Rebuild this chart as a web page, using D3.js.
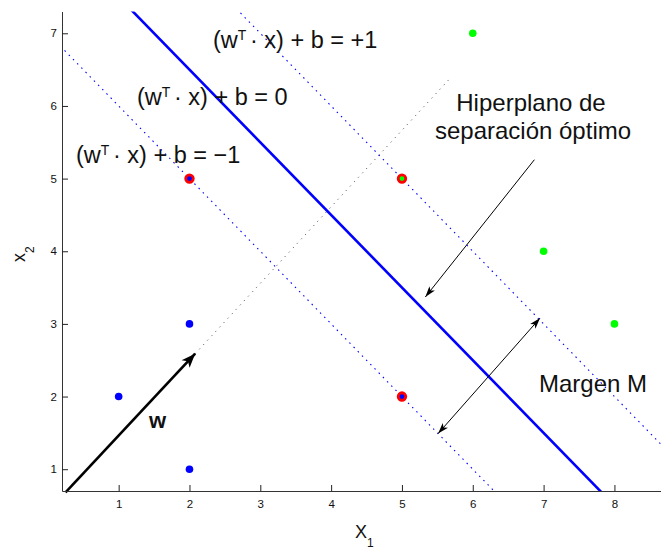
<!DOCTYPE html>
<html>
<head>
<meta charset="utf-8">
<script src="https://cdn.jsdelivr.net/npm/d3@7"></script>
<style>
body{margin:0;background:#fff}
text{font-family:"Liberation Sans",Arial,Helvetica,sans-serif;fill:#111}
</style>
</head>
<body>
<div id="canvas"></div>
<script>
// data
var xTicks = [1,2,3,4,5,6,7,8],
    yTicks = [1,2,3,4,5,6,7];

var blueX = [1,2,2,2,5], blueY = [2,1,3,5,2];      // class -1
var greenX = [6,7,8,5],  greenY = [7,4,3,5];       // class +1
var svX = [2,5,5], svY = [5,2,5];                  // support vectors (red ring)

// lines x1 + x2 = c
var planeC = [7, 8.5, 10],
    planeKind = ['margin','hyper','margin'];

var wX = [0.25, 2.08], wY = [0.68, 2.59];          // vector w
var normX = [2.08, 5.67], normY = [2.59, 6.37];    // dotted normal
var hypArrX = [6.87, 5.33], hypArrY = [5.26, 3.37];
var marArrX = [6.95, 5.51], marArrY = [3.08, 1.49];

var W = 661, H = 549;

var svg = d3.select('#canvas').append('svg')
    .attr('width', W).attr('height', H);

var x = d3.scaleLinear().domain([0.2, 8.7]).range([62, 664]),
    y = d3.scaleLinear().domain([0.7, 7.3]).range([491, 11.5]);

svg.append('clipPath').attr('id','clip')
  .append('rect').attr('x',62).attr('y',11.5).attr('width',602).attr('height',479.5);

var plot = svg.append('g').attr('clip-path','url(#clip)');

// separating lines
planeC.forEach(function(c, i){
    var l = plot.append('line')
        .attr('x1', x(0)).attr('y1', y(c))
        .attr('x2', x(c)).attr('y2', y(0))
        .attr('stroke','#0000ff');
    if (planeKind[i] == 'hyper') l.attr('stroke-width', 2.6);
    else l.attr('stroke-width', 1.1).attr('stroke-dasharray','1.5,4.5');
});

// normal direction, dotted gray
plot.append('line')
    .attr('x1', x(normX[0])).attr('y1', y(normY[0]))
    .attr('x2', x(normX[1])).attr('y2', y(normY[1]))
    .attr('stroke','#444').attr('stroke-width',1).attr('stroke-dasharray','1,5');

// points
plot.selectAll('.blue').data(blueX).enter().append('circle')
    .attr('cx', function(d){ return x(d); })
    .attr('cy', function(d,i){ return y(blueY[i]); })
    .attr('r', 3.8).attr('fill','#0000ff');
plot.selectAll('.green').data(greenX).enter().append('circle')
    .attr('cx', function(d){ return x(d); })
    .attr('cy', function(d,i){ return y(greenY[i]); })
    .attr('r', 3.8).attr('fill','#00ff00');
plot.selectAll('.sv').data(svX).enter().append('circle')
    .attr('cx', function(d){ return x(d); })
    .attr('cy', function(d,i){ return y(svY[i]); })
    .attr('r', 3.8).attr('fill','none').attr('stroke','#ff0000').attr('stroke-width',2.8);

// arrows
function head(g, px, py, tx, ty, len, wid){
    var a = Math.atan2(ty-py, tx-px),
        ux = Math.cos(a), uy = Math.sin(a),
        bx = tx - ux*len, by = ty - uy*len,
        nx = tx - ux*len*0.75, ny = ty - uy*len*0.75;
    g.append('path')
        .attr('d', 'M'+tx+','+ty+'L'+(bx - uy*wid/2)+','+(by + ux*wid/2)+
                   'L'+nx+','+ny+'L'+(bx + uy*wid/2)+','+(by - ux*wid/2)+'Z')
        .attr('fill','#000');
}
function arrow(xs, ys, sw, len, wid, both){
    var x1 = x(xs[0]), y1 = y(ys[0]), x2 = x(xs[1]), y2 = y(ys[1]);
    svg.append('line').attr('x1',x1).attr('y1',y1).attr('x2',x2).attr('y2',y2)
        .attr('stroke','#000').attr('stroke-width',sw);
    head(svg, x1, y1, x2, y2, len, wid);
    if (both) head(svg, x2, y2, x1, y1, len, wid);
}
arrow(wX, wY, 2.6, 14, 11, false);
arrow(hypArrX, hypArrY, 1, 11, 7, false);
arrow(marArrX, marArrY, 1, 11, 7, true);

// axes
var fmt = d3.format('d');
var xAxis = svg.append('g').attr('transform','translate(0,491)')
    .call(d3.axisBottom(x).tickValues(xTicks).tickFormat(fmt)
          .tickSizeInner(-6).tickSizeOuter(0).tickPadding(9));
var yAxis = svg.append('g').attr('transform','translate(62,0)')
    .call(d3.axisLeft(y).tickValues(yTicks).tickFormat(fmt)
          .tickSizeInner(-6).tickSizeOuter(0).tickPadding(5));
[xAxis, yAxis].forEach(function(a){
    a.select('.domain').attr('stroke','#333');
    a.selectAll('.tick line').attr('stroke','#222');
    a.selectAll('.tick text').style('font-size','11.5px').attr('fill','#222');
});

// equation labels
var eqLabels = ['+1', '0', '\u22121'],
    eqX = [213, 137, 76], eqY = [48, 105, 163];
eqLabels.forEach(function(s, i){
    var t = svg.append('text').attr('x', eqX[i]).attr('y', eqY[i]).style('font-size','23.5px');
    t.append('tspan').text('(w');
    t.append('tspan').attr('dy',-8).style('font-size','14px').text('T ');
    t.append('tspan').attr('dy',8).text('\u00b7 x) + b = ' + s);
});

svg.append('text').attr('x',531).attr('y',111).attr('text-anchor','middle')
    .style('font-size','24px').text('Hiperplano de');
svg.append('text').attr('x',533).attr('y',139).attr('text-anchor','middle')
    .style('font-size','24px').text('separación óptimo');
svg.append('text').attr('x',539).attr('y',392)
    .style('font-size','24px').text('Margen M');
svg.append('text').attr('x',149).attr('y',428)
    .style('font-size','22px').style('font-weight','bold').text('w');

// axis labels
var xl = svg.append('text').attr('x',355).attr('y',538).style('font-size','18px');
xl.append('tspan').text('X');
xl.append('tspan').attr('dy',9).style('font-size','12px').text('1');

var yl = svg.append('text').attr('transform','translate(25,262) rotate(-90)').style('font-size','18px');
yl.append('tspan').text('x');
yl.append('tspan').attr('dy',9).style('font-size','12px').text('2');
</script>
</body>
</html>
